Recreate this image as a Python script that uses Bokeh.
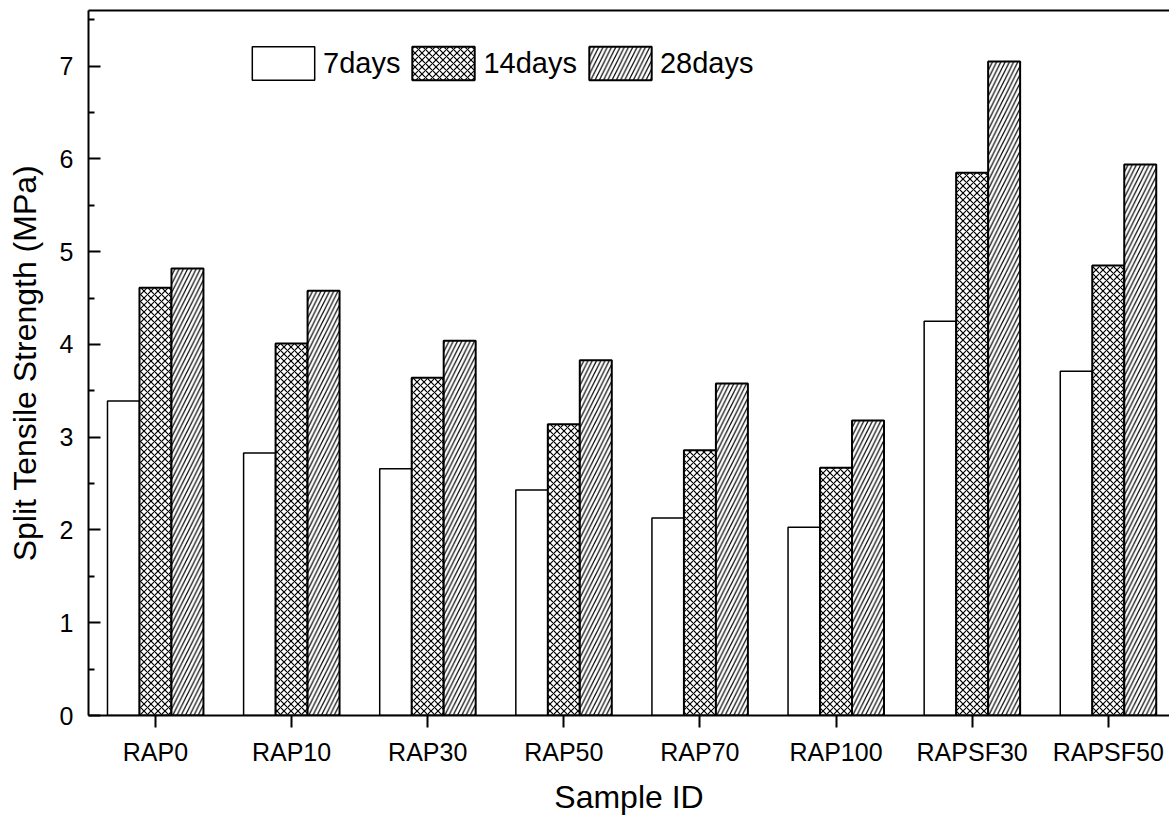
from bokeh.plotting import figure
from bokeh.models import (ColumnDataSource, FixedTicker, Range1d, Legend, LegendItem,
                          LinearAxis)
from bokeh.transform import dodge
from bokeh.embed import file_html
from bokeh.resources import INLINE

samples = ["RAP0", "RAP10", "RAP30", "RAP50", "RAP70", "RAP100", "RAPSF30", "RAPSF50"]
days7 = [3.39, 2.83, 2.66, 2.43, 2.13, 2.03, 4.25, 3.71]
days14 = [4.61, 4.01, 3.64, 3.14, 2.86, 2.67, 5.85, 4.85]
days28 = [4.82, 4.58, 4.04, 3.83, 3.58, 3.18, 7.05, 5.94]
series_labels = ["7days", "14days", "28days"]
y_ticks = [0, 1, 2, 3, 4, 5, 6, 7]

FONT = "Liberation Sans"

src = ColumnDataSource(dict(x=list(range(len(samples))), d7=days7, d14=days14, d28=days28))

x_start, x_end = -0.492, 7.45
y_end = 7.6
p = figure(width=1169, height=817,
           x_range=Range1d(x_start, x_end), y_range=Range1d(0, y_end),
           output_backend="svg", toolbar_location=None,
           min_border_left=88, min_border_right=0, min_border_top=10, min_border_bottom=101)
p.outline_line_color = None
p.xgrid.visible = False
p.ygrid.visible = False

bw = 0.235
r1 = p.vbar(x=dodge("x", -bw, range=p.x_range), top="d7", width=bw, source=src,
            fill_color="white", line_color="black", line_width=1.5)
r2 = p.vbar(x=dodge("x", 0, range=p.x_range), top="d14", width=bw, source=src,
            fill_color="white", line_color="black", line_width=2,
            hatch_pattern="x", hatch_scale=7, hatch_weight=1.2, hatch_color="black")
r3 = p.vbar(x=dodge("x", bw, range=p.x_range), top="d28", width=bw, source=src,
            fill_color="white", line_color="black", line_width=2,
            hatch_pattern="/", hatch_scale=8.5, hatch_weight=1.2, hatch_color="black")

# y axis
yax = p.left[0]
yax.ticker = FixedTicker(ticks=y_ticks, minor_ticks=[t + 0.5 for t in y_ticks])
yax.major_tick_in = 12
yax.major_tick_out = 0
yax.minor_tick_in = 6
yax.minor_tick_out = 0
yax.axis_line_width = 2
yax.major_tick_line_width = 2
yax.minor_tick_line_width = 2
yax.major_label_text_font = FONT
yax.major_label_text_font_size = "25px"
yax.major_label_text_color = "black"
yax.major_label_standoff = 15
yax.axis_label = "Split Tensile Strength (MPa)"
yax.axis_label_text_font = FONT
yax.axis_label_text_font_size = "32px"
yax.axis_label_text_font_style = "normal"
yax.axis_label_text_color = "black"
yax.axis_label_standoff = 14

# x axis
xax = p.below[0]
xax.ticker = FixedTicker(ticks=list(range(len(samples))), minor_ticks=[])
xax.major_label_overrides = {i: s for i, s in enumerate(samples)}
xax.major_tick_in = 0
xax.major_tick_out = 12
xax.axis_line_width = 2
xax.major_tick_line_width = 2
xax.minor_tick_line_color = None
xax.major_label_text_font = FONT
xax.major_label_text_font_size = "25px"
xax.major_label_text_color = "black"
xax.major_label_standoff = 10
xax.axis_label = "Sample ID"
xax.axis_label_text_font = FONT
xax.axis_label_text_font_size = "32px"
xax.axis_label_text_font_style = "normal"
xax.axis_label_text_color = "black"
xax.axis_label_standoff = 10

# top frame line: an axis with one hidden tick and explicit bounds
top_axis = LinearAxis(ticker=FixedTicker(ticks=[0], minor_ticks=[]),
                      bounds=(x_start, x_end), axis_line_width=2, axis_line_color="black",
                      major_tick_line_color=None, minor_tick_line_color=None,
                      major_tick_in=0, major_tick_out=0, minor_tick_in=0, minor_tick_out=0,
                      major_label_overrides={0: " "}, major_label_text_font_size="1px",
                      major_label_text_color=None, major_label_standoff=0)
p.add_layout(top_axis, "above")

legend = Legend(items=[LegendItem(label=series_labels[0], renderers=[r1]),
                       LegendItem(label=series_labels[1], renderers=[r2]),
                       LegendItem(label=series_labels[2], renderers=[r3])],
                orientation="horizontal", location=(156, 631),
                glyph_width=78, glyph_height=42, label_standoff=1, spacing=4,
                padding=0, margin=0, border_line_color=None, background_fill_alpha=0,
                label_text_font=FONT, label_text_font_size="29px", label_text_color="black")
p.add_layout(legend)

open("out.html", "w").write(file_html(p, INLINE))
